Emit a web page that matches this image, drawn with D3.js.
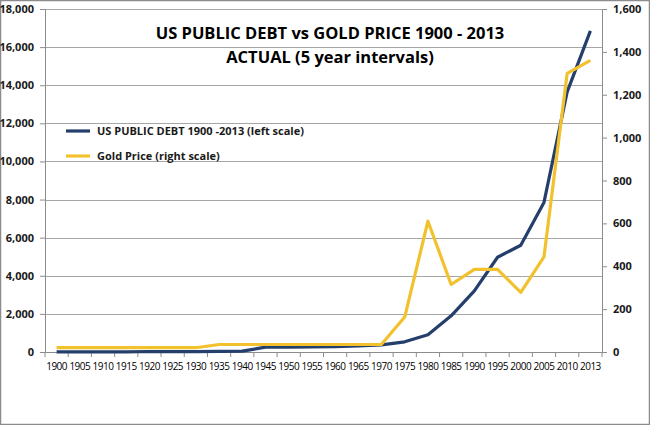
<!DOCTYPE html>
<html>
<head>
<meta charset="utf-8">
<script src="https://cdn.jsdelivr.net/npm/d3@7"></script>
<style>
  body { margin: 0; background: #fff; }
  text { font-family: "Open Sans", "Liberation Sans", sans-serif; }
</style>
</head>
<body>
<div id="chart"></div>
<script>
// data
var years = ["1900","1905","1910","1915","1920","1925","1930","1935","1940","1945","1950","1955",
             "1960","1965","1970","1975","1980","1985","1990","1995","2000","2005","2010","2013"];
var debt = [2, 2, 3, 3, 25, 20, 16, 28, 43, 258, 257, 274,
            286, 317, 370, 533, 908, 1900, 3206, 4974, 5600, 7850, 13650, 16850];
var gold = [20, 20, 20, 20, 20, 20, 20, 35, 35, 35, 35, 35,
            35, 35, 36, 163, 610, 315, 385, 385, 278, 444, 1300, 1360];
var leftTicks = [0, 2000, 4000, 6000, 8000, 10000, 12000, 14000, 16000, 18000];
var rightTicks = [0, 200, 400, 600, 800, 1000, 1200, 1400, 1600];

var W = 650, H = 425;
var margin = {top: 9, right: 48, bottom: 73, left: 45},
    width = W - margin.left - margin.right,
    height = H - margin.top - margin.bottom;

var root = d3.select("#chart").append("svg")
    .attr("width", W).attr("height", H);

// outer frame
root.append("rect")
    .attr("x", 0.5).attr("y", 0.5)
    .attr("width", W - 1).attr("height", H - 1)
    .attr("fill", "#fff").attr("stroke", "#8c8c8c").attr("stroke-width", 1.5);

var svg = root.append("g")
    .attr("transform", "translate(" + margin.left + "," + margin.top + ")");

var x = d3.scaleBand().domain(years).range([0, width]);
var yL = d3.scaleLinear().domain([0, 18000]).range([height, 0]);
var yR = d3.scaleLinear().domain([0, 1600]).range([height, 0]);

// gridlines
svg.append("g")
  .selectAll("line")
  .data(leftTicks.slice(1))
  .enter().append("line")
    .attr("x1", 0).attr("x2", width)
    .attr("y1", function(d) { return Math.round(yL(d)) + 0.5; })
    .attr("y2", function(d) { return Math.round(yL(d)) + 0.5; })
    .attr("stroke", "#a6a6a6").attr("stroke-width", 1);

// left axis
var gl = svg.append("g")
    .call(d3.axisLeft(yL).tickValues(leftTicks).tickFormat(d3.format(",")).tickSize(5).tickPadding(6));
// right axis
var gr = svg.append("g")
    .attr("transform", "translate(" + width + ",0)")
    .call(d3.axisRight(yR).tickValues(rightTicks).tickFormat(d3.format(",")).tickSize(5).tickPadding(6));
// x axis with ticks on band boundaries
var gx = svg.append("g")
    .attr("transform", "translate(0," + height + ")")
    .call(d3.axisBottom(x).tickSize(0).tickPadding(11));
gx.selectAll(".tickmark")
  .data(years.concat(["end"]))
  .enter().append("line")
    .attr("class", "tickmark")
    .attr("x1", function(d, i) { return i * x.bandwidth(); })
    .attr("x2", function(d, i) { return i * x.bandwidth(); })
    .attr("y1", 0).attr("y2", 5)
    .attr("stroke", "#8c8c8c");

[gl, gr, gx].forEach(function(g) {
  g.select(".domain").attr("stroke", "#8c8c8c");
  g.selectAll(".tick line").attr("stroke", "#8c8c8c");
  g.selectAll("text").attr("fill", "#1a1a1a").style("font-weight", "bold")
    .style("font-family", "'Open Sans', sans-serif");
});
gl.selectAll("text").style("font-size", "11px");
gr.selectAll("text").style("font-size", "11px");
gx.selectAll("text").style("font-size", "10px").style("font-weight", "normal")
    .attr("fill", "#000").attr("letter-spacing", "-0.5");

// lines
var lineL = d3.line()
    .x(function(d, i) { return x(years[i]) + x.bandwidth() / 2; })
    .y(function(d) { return yL(d); });
var lineR = d3.line()
    .x(function(d, i) { return x(years[i]) + x.bandwidth() / 2; })
    .y(function(d) { return yR(d); });

svg.append("path").datum(debt)
    .attr("d", lineL)
    .attr("fill", "none").attr("stroke", "#243f6b").attr("stroke-width", 3.2)
    .attr("stroke-linejoin", "round");
svg.append("path").datum(gold)
    .attr("d", lineR)
    .attr("fill", "none").attr("stroke", "#f2c12e").attr("stroke-width", 3.2)
    .attr("stroke-linejoin", "round");

// title
root.append("text")
    .attr("x", 330).attr("y", 39)
    .attr("text-anchor", "middle")
    .style("font-size", "16.5px").style("font-weight", "bold").attr("fill", "#000")
    .text("US PUBLIC DEBT vs GOLD PRICE 1900 - 2013");
root.append("text")
    .attr("x", 330).attr("y", 63)
    .attr("text-anchor", "middle")
    .style("font-size", "16.5px").style("font-weight", "bold").attr("fill", "#000")
    .text("ACTUAL (5 year intervals)");

// legend
var legend = [
  {name: "US PUBLIC DEBT 1900 -2013 (left scale)", color: "#243f6b", y: 131},
  {name: "Gold Price (right scale)", color: "#f2c12e", y: 156}
];
var lg = root.append("g").selectAll("g").data(legend).enter().append("g");
lg.append("line")
    .attr("x1", 66).attr("x2", 90)
    .attr("y1", function(d) { return d.y; }).attr("y2", function(d) { return d.y; })
    .attr("stroke", function(d) { return d.color; }).attr("stroke-width", 3.2);
lg.append("text")
    .attr("x", 97).attr("y", function(d) { return d.y + 4; })
    .style("font-size", "11px").style("font-weight", "bold").attr("fill", "#1a1a1a")
    .text(function(d) { return d.name; });
</script>
</body>
</html>
